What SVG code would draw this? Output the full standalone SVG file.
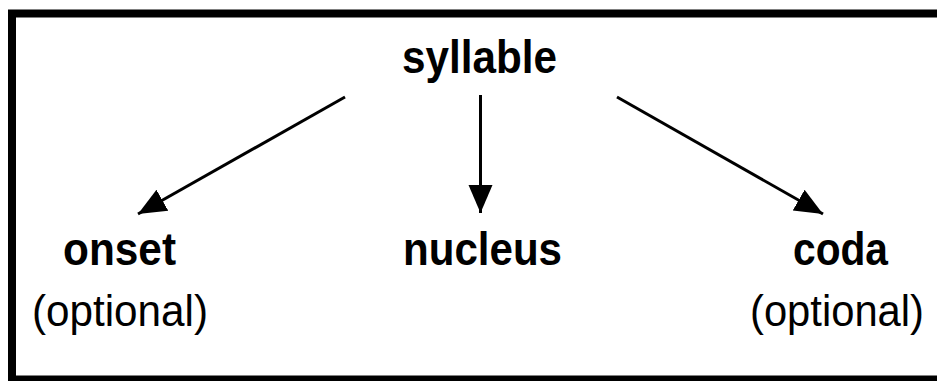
<svg xmlns="http://www.w3.org/2000/svg" width="937" height="381" viewBox="0 0 937 381">
<defs>
<style>
.b{font-family:"Liberation Sans",Arial,sans-serif;font-weight:bold;font-size:47px;fill:#000}
.r{font-family:"Liberation Sans",Arial,sans-serif;font-size:45px;fill:#000}
.e{stroke:#000;stroke-width:3;fill:none}
</style>
<marker id="ah" markerUnits="userSpaceOnUse" markerWidth="28" markerHeight="26" refX="28" refY="13" orient="auto" viewBox="0 0 28 26">
<path d="M0,1 L28,13 L0,25 Z" fill="#000"/>
</marker>
</defs>
<rect x="12" y="13.5" width="940" height="366" fill="#fff" stroke="#000" stroke-width="8"/>
<g id="connectors">
<line class="e" x1="345" y1="97" x2="138" y2="214" marker-end="url(#ah)"/>
<line class="e" x1="480.5" y1="95" x2="480.5" y2="213" marker-end="url(#ah)"/>
<line class="e" x1="617" y1="97" x2="823" y2="214" marker-end="url(#ah)"/>
</g>
<g id="syllable"><text class="b" x="402" y="73" textLength="155" lengthAdjust="spacingAndGlyphs">syllable</text></g>
<g id="onset">
<text class="b" x="63" y="265" textLength="113" lengthAdjust="spacingAndGlyphs">onset</text>
<text class="r" x="32" y="326" textLength="176" lengthAdjust="spacingAndGlyphs">(optional)</text>
</g>
<g id="nucleus"><text class="b" x="403" y="265" textLength="159" lengthAdjust="spacingAndGlyphs">nucleus</text></g>
<g id="coda">
<text class="b" x="793" y="265" textLength="95" lengthAdjust="spacingAndGlyphs">coda</text>
<text class="r" x="750" y="326" textLength="174" lengthAdjust="spacingAndGlyphs">(optional)</text>
</g>
</svg>
